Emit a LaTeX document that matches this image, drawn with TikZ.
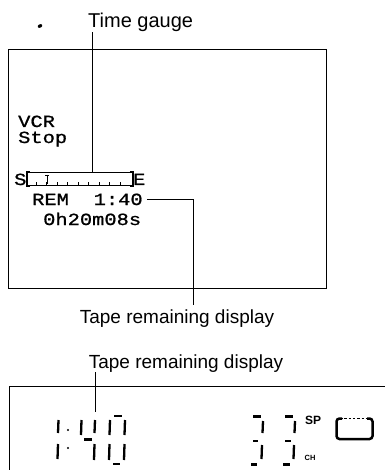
\documentclass[tikz,border=0pt]{standalone}
\usepackage{fontspec}
\setmainfont{Liberation Sans}
\newfontfamily\lcdfont[FakeStretch=1.2,FakeBold=1]{Liberation Mono}
\begin{document}
\begin{tikzpicture}[x=1pt,y=-1pt,
  lbl/.style={font=\fontsize{19}{19}\selectfont, inner sep=0pt, anchor=base west},
  mono/.style={font=\lcdfont\fontsize{17}{17}\selectfont, inner sep=0pt, anchor=base west},
  seg/.style={line width=2.3pt},
  wire/.style={line width=0.8pt}]
\useasboundingbox (0,0) rectangle (384,470);
% stray mark
\fill[rotate around={30:(40,26)}] (40,26) ellipse (2.4 and 1.7);
% top label
\node[lbl, font=\fontsize{20}{20}\selectfont] (tg) at (88,28) {Time gauge};
% screen
\draw[wire] (8,49) rectangle (326,288);
\node[mono] (vcr) at (18,127) {VCR};
\node[mono] (stop) at (18,143) {Stop};
\node[mono] (s) at (14,185) {S};
\node[draw, line width=0.8pt, minimum width=105pt, minimum height=13pt, anchor=north west, inner sep=0pt] (gauge) at (27,172) {};
\draw[line width=1.6pt] ([xshift=3pt]gauge.north west) -- (gauge.north west) -- (gauge.south west) -- ([xshift=3pt]gauge.south west);
\draw[line width=1.6pt] ([xshift=-3pt]gauge.north east) -- (gauge.north east) -- (gauge.south east) -- ([xshift=-3pt]gauge.south east);
\foreach \t in {36,46.5,57,67.5,78,88.5,99,109.5,120}
  \draw[line width=1pt] (\t,185) -- (\t,182.5);
\draw[line width=1pt] (47,175) -- (47,184);
\draw[line width=0.8pt] (45,175) -- (49,175);
\node[mono] (e) at (133,185) {E};
\node[mono] (rem) at (32,205) {REM};
\node[mono] (t140) at (93.5,205) {1:40};
\node[mono] (hms) at (43,225) {0h20m08s};
% connectors of the screen
\draw[wire] ([xshift=4pt]tg.south west) -- ([xshift=4pt]tg.south west |- gauge.north);
\coordinate (c1) at (193,305);
\draw[wire] ([xshift=4pt]t140.east) -| (c1);
\node[lbl, anchor=base] (tr1) at (177,323) {Tape remaining display};
% second label and LCD
\node[lbl, anchor=base] (tr2) at (186,368) {Tape remaining display};
\coordinate (d4) at (95,412);
\draw[wire] (tr2.south -| d4) -- (d4);
\draw[wire] (9,471) -- (9,386) -- (385,386);
% digit 1
\draw[seg] (58.5,420) -- (58,433);
\draw[seg] (58,444) -- (57.5,459);
\fill (68,430) circle (1.2);
\fill (68,448) circle (1.2);
% digit 4
\draw[seg] (81.5,420) -- (81,435);
\draw[seg] (95,420) -- (94.5,433);
\draw[seg] (84,439.5) -- (92,439.5);
\draw[seg] (94.5,444) -- (94,460);
% digit 0
\draw[seg] (114,416) -- (122,416);
\draw[seg] (110,420) -- (109.5,435);
\draw[seg] (125,420) -- (124.5,435);
\draw[seg] (109.5,444) -- (109,460);
\draw[seg] (124.5,444) -- (124,460);
\draw[seg] (113,464) -- (120,464);
% digit 3 (first)
\draw[seg] (253,416.5) -- (261,416.5);
\draw[seg] (263,421) -- (262.5,433);
\draw[seg] (253,441) -- (258,441);
\draw[seg] (262,445) -- (261.5,459);
\draw[seg] (251,464.5) -- (257,464.5);
% digit 3 (second)
\draw[seg] (285,416.5) -- (293,416.5);
\draw[seg] (295,421) -- (294.5,433);
\draw[seg] (285,441) -- (291,441);
\draw[seg] (294,445) -- (293.5,459);
\draw[seg] (283,464.5) -- (290,464.5);
% SP, CH, tape box
\node[font=\bfseries\fontsize{12}{12}\selectfont, inner sep=0pt] (sp) at (313,420) {SP};
\node[font=\bfseries\fontsize{7.5}{7.5}\selectfont, inner sep=0pt] (ch) at (310,458) {CH};
\draw[line width=0.7pt, dash pattern=on 2.5pt off 1.8pt] (340,418.5) -- (370,418.5);
\draw[line width=2.5pt, rounded corners=3pt] (342,418.5) -- (336.5,418.5) -- (336.5,439) -- (372.5,439) -- (372.5,418.5) -- (367,418.5);
\end{tikzpicture}
\end{document}
